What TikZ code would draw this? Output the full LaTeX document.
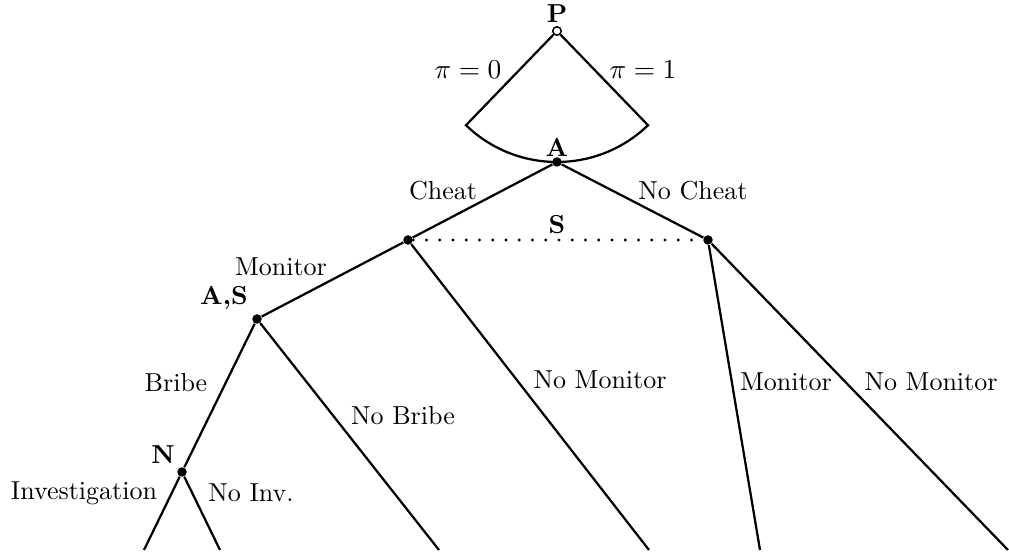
\documentclass[tikz,border=0pt]{standalone}
\begin{document}
\begin{tikzpicture}[x=0.4pt,y=0.4pt,
  edge/.style={line width=0.9pt},
  dot/.style={circle,fill,inner sep=0pt,minimum size=3.8pt},
  odot/.style={circle,draw,fill=white,inner sep=0pt,minimum size=3.4pt,line width=0.6pt},
  lab/.style={inner sep=0pt},
  info/.style={line width=1.3pt,line cap=round,dash pattern=on 0pt off 5.3pt},
  font=\fontsize{10.4}{12}\selectfont]
\useasboundingbox (0,0) rectangle (1009,553);
% decision nodes
\node[odot] (P) at (557,522) {};
\node[dot] (A) at (557,391) {};
\node[dot] (C) at (408,313) {};
\node[dot] (NC) at (708,313) {};
\node[dot] (AS) at (257,234) {};
\node[dot] (N) at (182,81) {};
% free ends
\path (P) ++(226:131) coordinate (L0);
\path (P) ++(314:131) coordinate (R1);
\coordinate (e1) at (144,3);
\coordinate (e2) at (220,3);
\coordinate (e3) at (439,3);
\coordinate (e4) at (649,3);
\coordinate (e5) at (760,3);
\coordinate (e6) at (1008,3);
% edges
\draw[edge] (P) -- (L0) arc[start angle=226,end angle=314,radius=131] -- (P);
\draw[edge] (A) -- (C);
\draw[edge] (A) -- (NC);
\draw[info] (C) -- (NC);
\draw[edge] (C) -- (AS);
\draw[edge] (C) -- (e4);
\draw[edge] (NC) -- (e5);
\draw[edge] (NC) -- (e6);
\draw[edge] (AS) -- (N);
\draw[edge] (AS) -- (e3);
\draw[edge] (N) -- (e1);
\draw[edge] (N) -- (e2);
% labels
\node[lab] (lP) at (557,539) {\textbf{P}};
\node[lab] (lpi0) at (468,483) {\fontsize{11}{13}\selectfont$\pi=0$};
\node[lab] (lpi1) at (643,483) {\fontsize{11}{13}\selectfont$\pi=1$};
\node[lab] (lA) at (557,406) {\textbf{A}};
\node[lab] (lCheat) at (443,362) {Cheat};
\node[lab] (lNoCheat) at (693,362) {No Cheat};
\node[lab] (lS) at (557,328) {\textbf{S}};
\node[lab] (lMon1) at (281,286) {Monitor};
\node[lab] (lAS) at (224,255) {\textbf{A,S}};
\node[lab] (lNoMon1) at (600,173) {No Monitor};
\node[lab] (lMon2) at (786,171) {Monitor};
\node[lab] (lNoMon2) at (931,171) {No Monitor};
\node[lab] (lBribe) at (176,170) {Bribe};
\node[lab] (lNoBribe) at (403,137) {No Bribe};
\node[lab] (lN) at (163,98) {\textbf{N}};
\node[lab] (lInv) at (84,60) {Investigation};
\node[lab] (lNoInv) at (251,60) {No Inv.};
\end{tikzpicture}
\end{document}
